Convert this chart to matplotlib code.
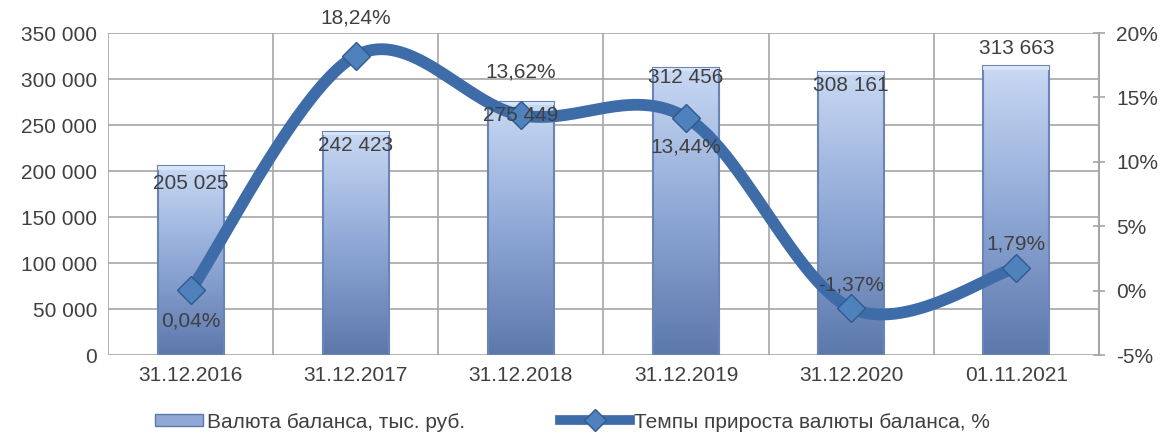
import numpy as np
import matplotlib
matplotlib.use("Agg")
import matplotlib.pyplot as plt
from matplotlib.colors import LinearSegmentedColormap
from matplotlib.patches import Rectangle
from matplotlib.lines import Line2D

plt.rcParams['font.family'] = ['Liberation Sans', 'DejaVu Sans']

categories = ['31.12.2016', '31.12.2017', '31.12.2018', '31.12.2019', '31.12.2020', '01.11.2021']
balance = [205025, 242423, 275449, 312456, 308161, 313663]
growth = [0.04, 18.24, 13.62, 13.44, -1.37, 1.79]
balance_labels = ['205 025', '242 423', '275 449', '312 456', '308 161', '313 663']
growth_labels = ['0,04%', '18,24%', '13,62%', '13,44%', '-1,37%', '1,79%']

# label offsets in points (style only)
bar_lab_off = [-12, -10, -10, -7, -10, 13]
pct_lab_off = [-22, 27, 31, -21, 17, 17]

txt = '#404040'
grid = '#a6a6a6'
line_c = '#3d6ca8'
fs = 15

fig = plt.figure(figsize=(11.63, 4.32), dpi=100)
ax = fig.add_axes([0.0929, 0.178, 0.852, 0.7456])
x = np.arange(len(categories))

ax.set_xlim(-0.5, len(categories) - 0.5)
ax.set_ylim(0, 350000)
ax.set_yticks(np.arange(0, 350001, 50000))
ax.set_yticklabels([f'{v:,}'.replace(',', ' ') for v in range(0, 350001, 50000)])
ax.set_xticks(x)
ax.set_xticklabels(categories)
ax.tick_params(axis='both', colors=grid, labelcolor=txt, labelsize=fs, length=0, pad=8)
for s in ax.spines.values():
    s.set_visible(False)
for yv in range(0, 350001, 50000):
    ax.axhline(yv, color=grid, lw=1.2, zorder=0)
for b in np.arange(-0.5, len(categories), 1.0):
    ax.axvline(b, color=grid, lw=1.2, zorder=0)

cmap = LinearSegmentedColormap.from_list('bar', ['#5c78ab', '#8fa8d6', '#c9d9f4'])
bw = 0.4
grad = np.linspace(0, 1, 256).reshape(-1, 1)
for xi, v in zip(x, balance):
    ax.imshow(grad, extent=[xi - bw / 2, xi + bw / 2, 0, v], origin='lower',
              cmap=cmap, aspect='auto', zorder=2)
    ax.add_patch(Rectangle((xi - bw / 2, 0), bw, v, fill=False, ec='#6a84b5', lw=1.5, zorder=3))
    ax.add_patch(Rectangle((xi - bw / 2, v - 3500), bw, 3500, fc='#d8e4f8', ec='none', zorder=3))
ax.set_xlim(-0.5, len(categories) - 0.5)
ax.set_ylim(0, 350000)

ax2 = ax.twinx()
ax2.set_position(ax.get_position())
ax2.set_ylim(-5, 20)
ax2.set_yticks(np.arange(-5, 21, 5))
ax2.set_yticklabels([f'{v}%' for v in range(-5, 21, 5)])
for s in ['top', 'left', 'bottom']:
    ax2.spines[s].set_visible(False)
ax2.spines['right'].set_color(grid)
ax2.spines['right'].set_linewidth(1.5)
ax2.tick_params(axis='y', colors=grid, labelcolor=txt, labelsize=fs, direction='inout', length=9, width=1.2, pad=8)

# smoothed line (Catmull-Rom bezier, like spreadsheet "smoothed line")
P = np.column_stack([x, growth]).astype(float)
Pp = np.vstack([P[0], P, P[-1]])
xs, ys = [], []
t = np.linspace(0, 1, 60)
for i in range(len(P) - 1):
    p0, p1, p2, p3 = Pp[i], Pp[i + 1], Pp[i + 2], Pp[i + 3]
    c1 = p1 + (p2 - p0) / 6
    c2 = p2 - (p3 - p1) / 6
    seg = ((1 - t) ** 3)[:, None] * p1 + (3 * (1 - t) ** 2 * t)[:, None] * c1 \
        + (3 * (1 - t) * t ** 2)[:, None] * c2 + (t ** 3)[:, None] * p2
    xs.extend(seg[:, 0]); ys.extend(seg[:, 1])
ax2.plot(xs, ys, color=line_c, lw=8.5, solid_capstyle='round', zorder=4)
ax2.plot(x, growth, ls='none', marker='D', ms=14, mfc='#4f81bd', mec='#2f5a8e', mew=1, zorder=5)

# bar labels drawn on the top axes so they sit above the line
for xi, v, lab, off in zip(x, balance, balance_labels, bar_lab_off):
    ax2.annotate(lab, (xi, v), xycoords=ax.transData, xytext=(0, off), textcoords='offset points',
                 ha='center', va='center', fontsize=fs, color=txt, zorder=6)
for xi, v, lab, off in zip(x, growth, growth_labels, pct_lab_off):
    ax2.annotate(lab, (xi, v), xytext=(0, off), textcoords='offset points',
                 ha='center', va='center', fontsize=fs, color=txt, zorder=6)

h1 = Rectangle((0, 0), 1, 1, fc='#8fa8d6', ec='#5c78ab')
h2 = Line2D([], [], color=line_c, lw=7, marker='D', ms=11, mfc='#4f81bd', mec='#2f5a8e')
ly = 1 - 422 / 432
leg1 = fig.legend([h1], ['Валюта баланса, тыс. руб.'], loc='center left',
                  bbox_to_anchor=(155 / 1163, ly), frameon=False, fontsize=fs, labelcolor=txt,
                  handlelength=2.3, handleheight=0.45, handletextpad=0.2, borderpad=0, borderaxespad=0)
leg2 = fig.legend([h2], ['Темпы прироста валюты баланса, %'], loc='center left',
                  bbox_to_anchor=(560 / 1163, ly), frameon=False, fontsize=fs, labelcolor=txt,
                  handlelength=3.35, handletextpad=0.2, borderpad=0, borderaxespad=0)

fig.savefig('out.png', dpi=100)
